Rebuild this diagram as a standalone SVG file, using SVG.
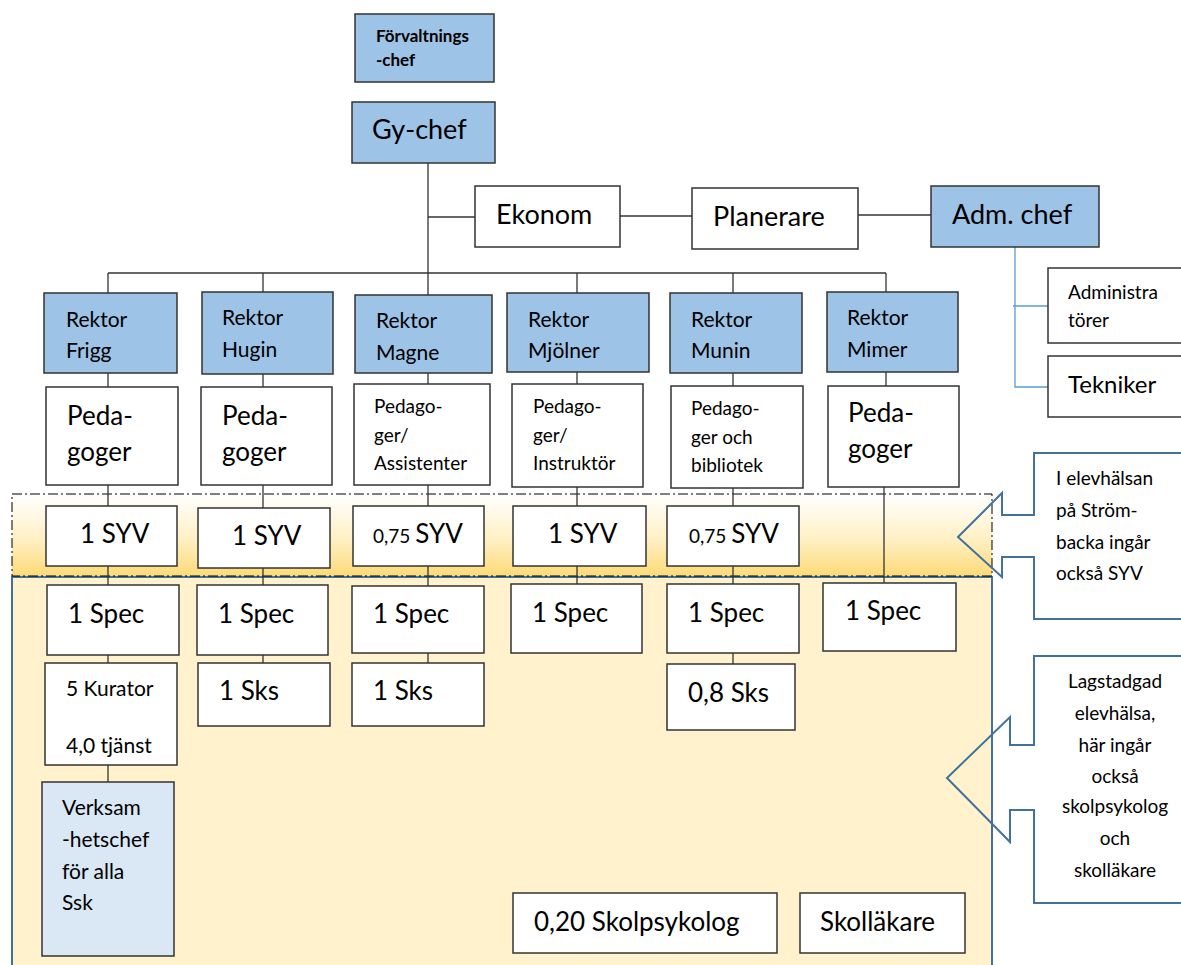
<svg xmlns="http://www.w3.org/2000/svg" width="1181" height="965" viewBox="0 0 1181 965">
<defs>
<linearGradient id="syvGrad" x1="0" y1="0" x2="0" y2="1">
<stop offset="0" stop-color="#ffffff"/>
<stop offset="0.55" stop-color="#fff0c4"/>
<stop offset="1" stop-color="#fdda78"/>
</linearGradient>
<style>
text{font-family:Lato,"Liberation Sans",sans-serif;fill:#000}
.box{fill:#fff;stroke:#333;stroke-width:1.5}
.blue{fill:#9dc3e6;stroke:#333;stroke-width:1.5}
.lblue{fill:#dae8f5;stroke:#333;stroke-width:1.5}
.ln{stroke:#333;stroke-width:1.3;fill:none}
.bl{stroke:#5b9bd5;stroke-width:1.3;fill:none}
.call{fill:none;stroke:#41719c;stroke-width:2}
.big{font-size:27px}
.rk{font-size:21px}
.pg{font-size:26px}
.sm{font-size:19px}
</style>
</defs>
<rect width="1181" height="965" fill="#fff"/>
<g id="regions">
<rect x="12" y="577" width="980" height="400" fill="#fff2cc" stroke="#41719c" stroke-width="2"/>
<rect x="12" y="494" width="980" height="82" fill="url(#syvGrad)" stroke="#000" stroke-width="1" stroke-dasharray="10 3 2 3"/>
</g>
<g id="connectors">
<line class="ln" x1="428" y1="163" x2="428" y2="663"/>
<line class="ln" x1="108" y1="273" x2="886" y2="273"/>
<line class="ln" x1="108" y1="273" x2="108" y2="782"/>
<line class="ln" x1="263" y1="273" x2="263" y2="663"/>
<line class="ln" x1="577" y1="273" x2="577" y2="584"/>
<line class="ln" x1="733" y1="273" x2="733" y2="664"/>
<line class="ln" x1="886" y1="273" x2="886" y2="386"/>
<line class="ln" x1="884" y1="487" x2="884" y2="583"/>
<line class="ln" x1="428" y1="217" x2="475" y2="217"/>
<line class="ln" x1="620" y1="216" x2="692" y2="216"/>
<line class="ln" x1="858" y1="215" x2="931" y2="215"/>
<polyline class="bl" points="1015,247 1015,387 1048,387"/>
<line class="bl" x1="1013" y1="306" x2="1048" y2="306"/>
</g>
<g id="n-forvaltningschef"><rect class="blue" x="355" y="14" width="139" height="68"/><text x="376" y="42" font-size="17" font-weight="bold">Förvaltnings</text><text x="376" y="66" font-size="17" font-weight="bold">-chef</text></g>
<g id="n-gychef"><rect class="blue" x="352" y="102" width="143" height="61"/><text class="big" x="372" y="139">Gy-chef</text></g>
<g id="n-ekonom"><rect class="box" x="475" y="186" width="145" height="61"/><text class="big" x="496" y="224">Ekonom</text></g>
<g id="n-planerare"><rect class="box" x="692" y="188" width="166" height="61"/><text class="big" x="713" y="226">Planerare</text></g>
<g id="n-admchef"><rect class="blue" x="931" y="186" width="168" height="61"/><text class="big" x="952" y="224">Adm. chef</text></g>
<g id="n-administratorer"><rect class="box" x="1048" y="268" width="140" height="75"/><text x="1068" y="299" font-size="19">Administra</text><text x="1068" y="327" font-size="19">törer</text></g>
<g id="n-tekniker"><rect class="box" x="1048" y="356" width="140" height="61"/><text x="1068" y="393" font-size="24">Tekniker</text></g>

<g id="n-rektor-frigg"><rect class="blue" x="44" y="293" width="133" height="80"/><text class="rk" x="66" y="327">Rektor</text><text class="rk" x="66" y="358">Frigg</text></g>
<g id="n-rektor-hugin"><rect class="blue" x="202" y="292" width="131" height="82"/><text class="rk" x="222" y="325">Rektor</text><text class="rk" x="222" y="357">Hugin</text></g>
<g id="n-rektor-magne"><rect class="blue" x="355" y="295" width="137" height="78"/><text class="rk" x="376" y="328">Rektor</text><text class="rk" x="376" y="360">Magne</text></g>
<g id="n-rektor-mjolner"><rect class="blue" x="507" y="293" width="142" height="79"/><text class="rk" x="528" y="327">Rektor</text><text class="rk" x="528" y="358">Mjölner</text></g>
<g id="n-rektor-munin"><rect class="blue" x="670" y="293" width="132" height="80"/><text class="rk" x="691" y="327">Rektor</text><text class="rk" x="691" y="358">Munin</text></g>
<g id="n-rektor-mimer"><rect class="blue" x="827" y="292" width="131" height="80"/><text class="rk" x="847" y="325">Rektor</text><text class="rk" x="847" y="357">Mimer</text></g>

<g id="n-ped-frigg"><rect class="box" x="46" y="387" width="132" height="98"/><text class="pg" x="67" y="425">Peda-</text><text class="pg" x="67" y="461">goger</text></g>
<g id="n-ped-hugin"><rect class="box" x="201" y="387" width="131" height="98"/><text class="pg" x="222" y="425">Peda-</text><text class="pg" x="222" y="461">goger</text></g>
<g id="n-ped-magne"><rect class="box" x="354" y="384" width="136" height="101"/><text class="sm" x="374" y="413">Pedago-</text><text class="sm" x="374" y="442">ger/</text><text class="sm" x="374" y="470">Assistenter</text></g>
<g id="n-ped-mjolner"><rect class="box" x="512" y="384" width="131" height="103"/><text class="sm" x="533" y="413">Pedago-</text><text class="sm" x="533" y="442">ger/</text><text class="sm" x="533" y="470">Instruktör</text></g>
<g id="n-ped-munin"><rect class="box" x="671" y="386" width="132" height="102"/><text class="sm" x="691" y="415">Pedago-</text><text class="sm" x="691" y="444">ger och</text><text class="sm" x="691" y="472">bibliotek</text></g>
<g id="n-ped-mimer"><rect class="box" x="828" y="386" width="131" height="101"/><text class="pg" x="848" y="422">Peda-</text><text class="pg" x="848" y="458">goger</text></g>

<g id="n-syv-frigg"><rect class="box" x="46" y="506" width="131" height="60"/><text class="pg" x="80" y="543">1 SYV</text></g>
<g id="n-syv-hugin"><rect class="box" x="198" y="508" width="132" height="60"/><text class="pg" x="232" y="545">1 SYV</text></g>
<g id="n-syv-magne"><rect class="box" x="353" y="506" width="131" height="60"/><text x="373" y="543"><tspan font-size="19">0,75 </tspan><tspan class="pg">SYV</tspan></text></g>
<g id="n-syv-mjolner"><rect class="box" x="513" y="506" width="133" height="60"/><text class="pg" x="548" y="543">1 SYV</text></g>
<g id="n-syv-munin"><rect class="box" x="667" y="506" width="132" height="60"/><text x="689" y="543"><tspan font-size="19">0,75 </tspan><tspan class="pg">SYV</tspan></text></g>

<g id="n-spec-frigg"><rect class="box" x="47" y="585" width="132" height="70"/><text class="pg" x="68" y="623">1 Spec</text></g>
<g id="n-spec-hugin"><rect class="box" x="197" y="585" width="131" height="70"/><text class="pg" x="218" y="623">1 Spec</text></g>
<g id="n-spec-magne"><rect class="box" x="352" y="586" width="132" height="67"/><text class="pg" x="373" y="623">1 Spec</text></g>
<g id="n-spec-mjolner"><rect class="box" x="511" y="584" width="131" height="69"/><text class="pg" x="532" y="622">1 Spec</text></g>
<g id="n-spec-munin"><rect class="box" x="667" y="584" width="132" height="69"/><text class="pg" x="688" y="622">1 Spec</text></g>
<g id="n-spec-mimer"><rect class="box" x="823" y="583" width="133" height="68"/><text class="pg" x="845" y="620">1 Spec</text></g>

<g id="n-kurator"><rect class="box" x="45" y="663" width="132" height="102"/><text x="66" y="696" font-size="21">5 Kurator</text><text x="66" y="753" font-size="21">4,0 tjänst</text></g>
<g id="n-sks-hugin"><rect class="box" x="198" y="663" width="132" height="63"/><text class="pg" x="219" y="700">1 Sks</text></g>
<g id="n-sks-magne"><rect class="box" x="352" y="663" width="132" height="63"/><text class="pg" x="373" y="700">1 Sks</text></g>
<g id="n-sks-munin"><rect class="box" x="667" y="664" width="128" height="66"/><text class="pg" x="688" y="702">0,8 Sks</text></g>
<g id="n-verksamhetschef"><rect class="lblue" x="42" y="782" width="132" height="174"/><text x="62" y="815" font-size="21">Verksam</text><text x="62" y="847" font-size="21">-hetschef</text><text x="62" y="879" font-size="21">för alla</text><text x="62" y="910" font-size="21">Ssk</text></g>
<g id="n-skolpsykolog"><rect class="box" x="513" y="893" width="264" height="60"/><text class="pg" x="534" y="931">0,20 Skolpsykolog</text></g>
<g id="n-skollakare"><rect class="box" x="800" y="893" width="165" height="60"/><text class="pg" x="820" y="931">Skolläkare</text></g>

<g id="n-callout-syv">
<path class="call" d="M1185,453 L1034,453 L1034,515 L1002,515 L1002,493 L958,537 L1002,577 L1002,557 L1034,557 L1034,619 L1185,619"/>
<text class="sm" x="1056" y="485">I elevhälsan</text><text class="sm" x="1056" y="517">på Ström-</text><text class="sm" x="1056" y="549">backa ingår</text><text class="sm" x="1056" y="580">också SYV</text>
</g>
<g id="n-callout-elevhalsa">
<path class="call" d="M1185,656 L1034,656 L1034,745 L1010,745 L1010,717 L947,778 L1010,842 L1010,810 L1034,810 L1034,903 L1185,903"/>
<g class="sm" text-anchor="middle">
<text class="sm" x="1115" y="688">Lagstadgad</text><text class="sm" x="1115" y="720">elevhälsa,</text><text class="sm" x="1115" y="752">här ingår</text><text class="sm" x="1115" y="783">också</text><text class="sm" x="1115" y="813">skolpsykolog</text><text class="sm" x="1115" y="845">och</text><text class="sm" x="1115" y="877">skolläkare</text>
</g>
</g>
</svg>
